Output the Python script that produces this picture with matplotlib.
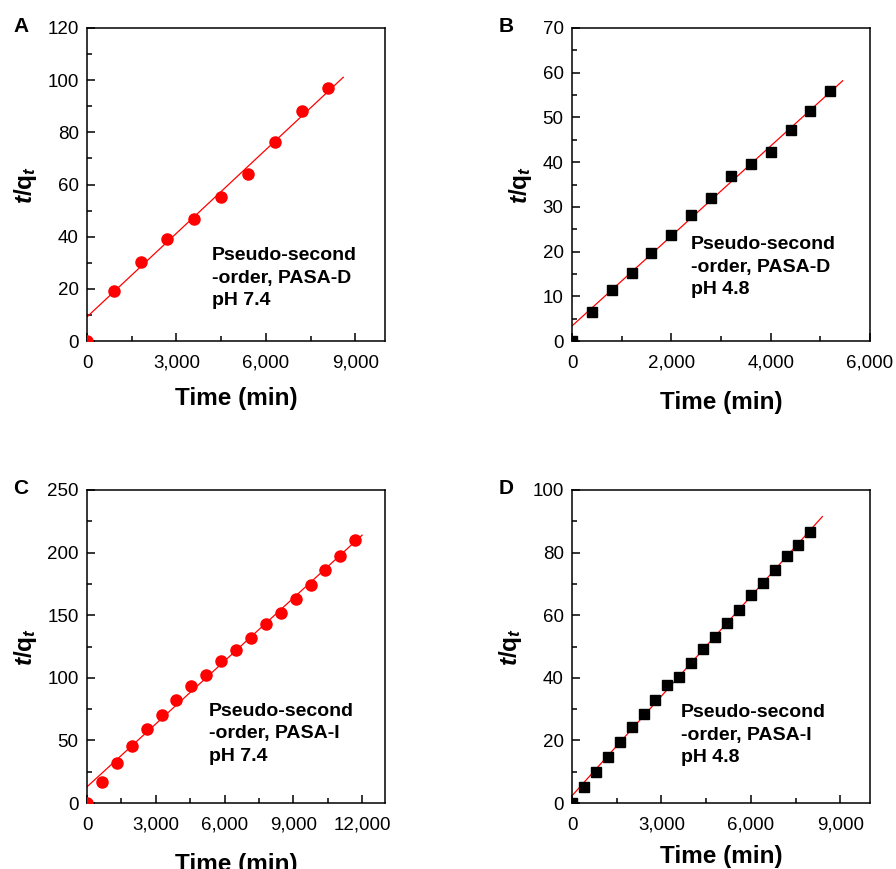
import numpy as np
import matplotlib
matplotlib.use('Agg')
import matplotlib.pyplot as plt
from matplotlib.ticker import MultipleLocator, FuncFormatter

plt.rcParams['font.family'] = ['Liberation Sans', 'DejaVu Sans']
plt.rcParams['mathtext.fontset'] = 'custom'
plt.rcParams['mathtext.rm'] = 'Liberation Sans:bold'
plt.rcParams['mathtext.bf'] = 'Liberation Sans:bold'
plt.rcParams['mathtext.it'] = 'Liberation Sans:italic:bold'
plt.rcParams['mathtext.bfit'] = 'Liberation Sans:italic:bold'

# Panel A: PASA-D, pH 7.4
time_a = [0, 900, 1800, 2700, 3600, 4500, 5400, 6300, 7200, 8100]
tq_a = [0, 19.0, 30.2, 39.2, 46.7, 55.3, 64.2, 76.2, 88.0, 97.0]

# Panel B: PASA-D, pH 4.8
time_b = [0, 400, 800, 1200, 1600, 2000, 2400, 2800, 3200, 3600, 4000, 4400, 4800, 5200]
tq_b = [0, 6.5, 11.4, 15.3, 19.6, 23.8, 28.1, 31.9, 37.0, 39.6, 42.3, 47.2, 51.5, 55.8]

# Panel C: PASA-I, pH 7.4
time_c = [0, 650, 1300, 1950, 2600, 3250, 3900, 4550, 5200, 5850, 6500, 7150,
          7800, 8450, 9100, 9750, 10400, 11050, 11700]
tq_c = [0, 16.5, 31.6, 45.5, 58.8, 70.5, 82.2, 93.1, 101.9, 113.8, 122.3, 131.9,
        142.8, 152.1, 163.3, 174.5, 186.2, 197.3, 210.1]

# Panel D: PASA-I, pH 4.8
time_d = [0, 400, 800, 1200, 1600, 2000, 2400, 2800, 3200, 3600, 4000, 4400,
          4800, 5200, 5600, 6000, 6400, 6800, 7200, 7600, 8000]
tq_d = [0, 5.0, 9.9, 14.8, 19.5, 24.3, 28.5, 33.0, 37.7, 40.1, 44.6, 49.3,
        53.1, 57.4, 61.7, 66.3, 70.4, 74.3, 79.0, 82.5, 86.5]

panels = [
    dict(letter='A', x=time_a, y=tq_a, marker='o', color='red', ms=8, fit_end=8600,
         xlim=10000, ylim=120, xmaj=3000, ymaj=20, rect=(87, 28), lpad=11,
         note='Pseudo-second\n-order, PASA-D\npH 7.4', npos=(0.42, 0.30)),
    dict(letter='B', x=time_b, y=tq_b, marker='s', color='black', ms=6.5, fit_end=5450,
         xlim=6000, ylim=70, xmaj=2000, ymaj=10, rect=(572, 28), lpad=14,
         note='Pseudo-second\n-order, PASA-D\npH 4.8', npos=(0.40, 0.335)),
    dict(letter='C', x=time_c, y=tq_c, marker='o', color='red', ms=8, fit_end=12000,
         xlim=13000, ylim=250, xmaj=3000, ymaj=50, rect=(87, 490), lpad=14,
         note='Pseudo-second\n-order, PASA-I\npH 7.4', npos=(0.41, 0.32)),
    dict(letter='D', x=time_d, y=tq_d, marker='s', color='black', ms=6.5, fit_end=8400,
         xlim=10000, ylim=100, xmaj=3000, ymaj=20, rect=(572, 490), lpad=8,
         note='Pseudo-second\n-order, PASA-I\npH 4.8', npos=(0.365, 0.315)),
]

W, H = 896, 869
fig = plt.figure(figsize=(W / 100, H / 100), dpi=100)

for p in panels:
    left, top = p['rect']
    ax = fig.add_axes([left / W, (H - top - 313) / H, 298 / W, 313 / H])
    x = np.array(p['x'], dtype=float)
    y = np.array(p['y'], dtype=float)

    # linear fit of t/qt vs t (origin point excluded)
    k, b = np.polyfit(x[1:], y[1:], 1)
    xf = np.array([0, p['fit_end']])
    ax.plot(xf, k * xf + b, color='red', lw=0.9, zorder=2)
    ax.plot(x, y, linestyle='none', marker=p['marker'], color=p['color'],
            ms=p['ms'], zorder=3)

    ax.set_xlim(0, p['xlim'])
    ax.set_ylim(0, p['ylim'])
    ax.xaxis.set_major_locator(MultipleLocator(p['xmaj']))
    ax.xaxis.set_minor_locator(MultipleLocator(p['xmaj'] / 2))
    ax.yaxis.set_major_locator(MultipleLocator(p['ymaj']))
    ax.yaxis.set_minor_locator(MultipleLocator(p['ymaj'] / 2))
    ax.xaxis.set_major_formatter(FuncFormatter(lambda v, pos: f'{int(v):,}'))
    ax.tick_params(which='both', direction='in', top=False, right=False,
                   labelsize=13.5, width=1.1)
    ax.tick_params(which='major', length=6)
    ax.tick_params(which='minor', length=3.5)
    ax.tick_params(axis='x', which='major', pad=10)
    ax.tick_params(axis='y', which='major', pad=6)
    for s in ax.spines.values():
        s.set_linewidth(1.1)

    ax.set_xlabel('Time (min)', fontsize=17.5, fontweight='bold', labelpad=p['lpad'])
    ax.set_ylabel(r'$\mathbfit{t}$/q$_{\mathbfit{t}}$', fontsize=17.5,
                  fontweight='bold', labelpad=6)

    ax.text(p['npos'][0], p['npos'][1], p['note'], transform=ax.transAxes,
            fontsize=14, fontweight='bold', va='top', ha='left', linespacing=1.42)
    fig.text((left - 66) / W, 1 - (top - 1) / H, p['letter'], fontsize=15,
             fontweight='bold', ha='center', va='center')

fig.savefig('out.png', dpi=100)
